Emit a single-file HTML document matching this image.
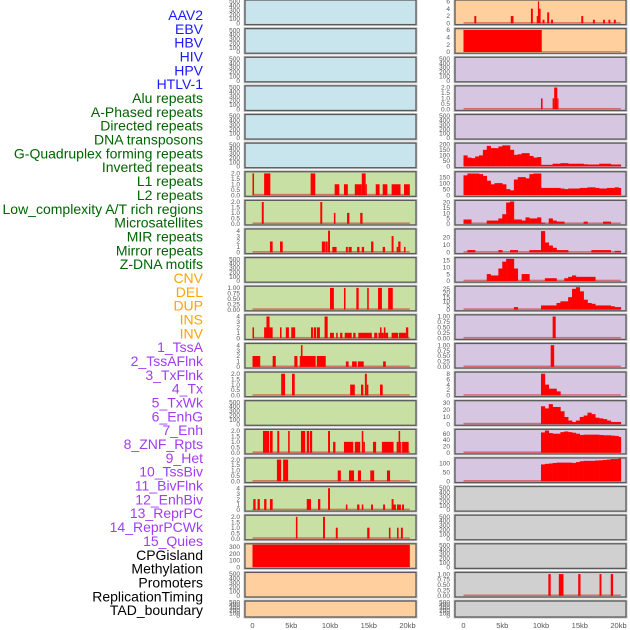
<!DOCTYPE html>
<html><head><meta charset="utf-8">
<style>
html,body{margin:0;padding:0;background:#fff;}
svg{display:block;font-family:"Liberation Sans",sans-serif;}
</style></head>
<body>
<svg id="chart" width="630" height="630" viewBox="0 0 630 630" xmlns="http://www.w3.org/2000/svg"></svg>
<script>
// ---------- data ----------
const trackLabels = ["AAV2","EBV","HBV","HIV","HPV","HTLV-1","Alu repeats","A-Phased repeats","Directed repeats","DNA transposons","G-Quadruplex forming repeats","Inverted repeats","L1 repeats","L2 repeats","Low_complexity A/T rich regions","Microsatellites","MIR repeats","Mirror repeats","Z-DNA motifs","CNV","DEL","DUP","INS","INV","1_TssA","2_TssAFlnk","3_TxFlnk","4_Tx","5_TxWk","6_EnhG","7_Enh","8_ZNF_Rpts","9_Het","10_TssBiv","11_BivFlnk","12_EnhBiv","13_ReprPC","14_ReprPCWk","15_Quies","CPGisland","Methylation","Promoters","ReplicationTiming","TAD_boundary"];
const labelGroups = ["v","v","v","v","v","v","r","r","r","r","r","r","r","r","r","r","r","r","r","s","s","s","s","s","c","c","c","c","c","c","c","c","c","c","c","c","c","c","c","o","o","o","o","o"];
const xTicks = [0,5,10,15,20];
const xTickLabels = ["0","5kb","10kb","15kb","20kb"];

// left column bars [startKb, endKb, height]
const leftL1 = [[0,0.2,2],[1.5,2.3,2],[7.5,8.1,2],[10.6,11.2,1],[11.8,12.3,1],[13.2,14.1,1],[14.1,14.6,2],[14.6,14.75,1],[15.9,16.4,1],[16.8,17.4,1],[17.95,19.1,1],[19.55,20.3,1]];
const leftL2 = [[1.2,1.45,2],[8.75,9.0,2],[10.5,10.7,1],[12.2,12.5,1],[13.9,14.2,1]];
const leftL3 = [[2.25,2.6,2],[3.55,3.9,2],[8.95,9.35,2],[9.4,9.7,2],[9.75,10.0,4],[10.3,10.85,1],[12.05,12.3,1],[12.4,12.8,1],[13.5,13.8,1],[14.1,14.4,1],[15.3,15.6,2],[16.8,17.1,1],[17.95,18.2,3],[18.6,18.8,1],[18.8,19.1,2],[19.55,19.75,1]];
const leftL5 = [[10.0,10.5,1],[11.8,12.0,1],[13.4,13.7,1],[14.8,15.0,1],[16.2,16.7,1],[17.5,18.1,1]];
const leftL6 = [[0,0.2,2],[1.5,1.8,2],[1.8,2.2,4],[2.2,2.6,2],[3.55,3.75,2],[4.3,4.7,2],[5.0,5.5,2],[7.55,7.8,2],[7.9,8.2,2],[8.3,8.7,2],[9.3,9.7,4],[10.0,10.5,1],[10.8,11.0,1],[11.3,11.6,1],[11.9,12.8,1],[13.0,13.3,1],[13.65,15.4,1],[15.7,16.1,1],[16.25,16.45,1],[16.45,16.65,2],[16.65,16.95,1],[16.95,17.15,2],[17.15,17.5,1],[17.95,18.8,1],[18.9,19.8,1],[19.8,20.1,2]];
const leftL7 = [[0,1.0,2],[2.6,3.0,2],[5.4,5.8,2],[6.1,6.25,2],[6.25,6.45,4],[6.45,8.15,2],[8.3,9.45,2],[12.05,12.4,1],[12.85,13.45,1],[13.6,14.35,1],[16.85,17.2,1]];
const leftL8 = [[3.7,4.2,2],[5.1,5.45,2],[12.6,13.2,1],[14.0,14.3,1],[14.5,14.75,2],[14.75,14.95,1],[16.45,16.8,1]];
const leftL10 = [[1.35,2.15,2],[2.25,2.6,2],[3.2,3.45,2],[4.6,4.8,2],[6.25,6.8,2],[7.0,7.3,2],[7.4,7.7,2],[9.75,10.0,2],[10.4,10.7,1],[11.8,13.0,1],[13.2,13.9,1],[14.1,14.3,2],[14.3,14.5,1],[15.55,15.95,1],[16.7,18.2,1],[18.6,18.85,1],[18.85,19.05,2],[19.05,19.1,1],[19.3,20.15,1]];
const leftL11 = [[3.15,3.7,2],[3.95,4.6,2],[11.0,11.4,1],[12.45,13.1,1],[13.6,14.0,1],[15.2,15.7,1],[17.35,17.75,1]];
const leftL12 = [[0.1,0.4,2],[0.65,0.95,2],[1.5,1.8,2],[2.25,2.6,2],[7.0,7.55,2],[8.45,8.75,2],[9.75,10.0,4],[12.05,12.25,1],[13.5,13.8,1],[14.1,14.3,1],[15.3,15.55,1],[16.85,17.1,1],[17.95,18.2,2],[18.2,18.5,1],[18.65,19.15,1],[19.3,19.55,1]];
const leftL13 = [[5.6,5.8,2],[9.1,9.35,2],[10.75,11.0,1],[14.8,15.1,1],[17.6,17.8,1],[18.65,18.85,1],[19.15,19.4,1]];
const leftCpG = [[0,20.3,330]];

// right column bars
const rightR0 = [[1.4,1.65,2],[6.1,6.45,2],[8.7,8.95,4],[9.45,9.6,2],[9.6,9.75,6],[9.75,9.95,4],[10.2,10.45,1],[10.8,11.05,3],[11.3,11.55,1],[15.2,15.45,2],[16.7,16.95,1],[18.0,18.25,1],[18.7,18.95,1],[19.4,19.65,1]];
const rightR1 = [[0,10.1,6],[10.1,20.3,0.12]];
const rightR3 = [[10.0,10.2,1],[11.5,11.7,1],[11.7,12.1,2],[12.1,12.25,1]];
const rightR11 = [[11.5,11.9,1]];
const rightR12 = [[11.25,11.7,1]];
const rightR20 = [[10.95,11.25,1],[12.3,12.9,1],[14.8,15.1,1],[17.55,17.8,1],[19.0,19.3,1]];

// right column binned profiles (0.5kb bins starting at 0)
const profAlu = [100,80,75,90,100,150,185,165,165,180,190,190,150,105,110,120,120,95,80,85,15,15,15,25,25,30,30,25,25,25,25,20,18,18,18,25,25,25,18,18,18];
const profL1 = [165,180,180,180,175,160,120,90,100,100,90,50,40,130,150,150,140,175,180,180,60,60,60,60,60,55,50,55,55,55,60,60,65,65,60,55,55,60,60,65,60];
const profLowAT = [4,4,0,0,0,0,3,3,3,5,9,20,21,4,4,3,6,5,5,6,1,0,5,3,2,2,0,0,0,0,0,2,0,0,0,0,2,2,0,0,0];
const profMIR = [0,3,3,0,0,0,0,0,0,3,0,0,3,3,0,0,0,3,3,3,28,13,9,6,3,3,3,0,0,0,0,0,0,3,3,3,3,3,0,2,2];
const profMirror = [0,0,0,0,0,0,5,4,4,9,14,16,16,9,0,5,5,0,0,0,0,2,2,2,0,0,2,3,4,3,3,3,3,3,0,0,0,0,0,0,0];
const profZDNA = [0,0,0,0,0,0,0,0,0,0,0,0,0,3,0,0,0,0,0,0,5,5,5,5,8,10,10,15,25,27,22,12,8,7,5,5,5,5,4,3,3];
const prof13 = [0,0,0,0,0,0,0,0,0,0,0,0,0,0,0,0,0,0,0,0,8,4,2.5,2.5,1.5,0,0,0,0,0,0,0,0,0,0,0,0,0,0,0,0];
const prof14 = [0,0,0,0,0,0,0,0,0,0,0,0,0,0,0,0,0,0,0,0,25,22,28,24,24,18,10,5,3,5,10,12,16,14,9,8,7,5,3,3,3];
const prof15 = [0,0,0,0,0,0,0,0,0,0,0,0,0,0,0,0,0,0,0,0,64,70,62,60,60,65,67,65,63,60,56,57,57,57,57,56,55,55,54,53,50];
const prof16 = [0,0,0,0,0,0,0,0,0,0,0,0,0,0,0,0,0,0,0,0,95,98,100,103,105,105,105,105,103,108,113,115,115,115,117,118,120,122,125,125,128];

// y-axis tick sets
const tEmpty = [0,100,200,300,400,500];
const t2 = [0,0.5,1,1.5,2];
const t4 = [0,1,2,3,4];
const t1 = [0,0.25,0.5,0.75,1];
const t6 = [0,2,4,6];

// ---------- layout ----------
const svg = document.getElementById('chart');
const NS = 'http://www.w3.org/2000/svg';
const BLUE='#c8e4ec', GREEN='#c8e0a4', ORANGE='#ffd09e', PURPLE='#d6c6e2', GRAY='#d0d0d0';
const cols = [{x0:245,x1:416,zero:252.5},{x0:455,x1:626,zero:463.5}];
const kbPx = 7.75;
const rowTop = i => i*28.62;
const rowH = i => i===21 ? 16 : 24.6;

function mk(tag, attrs, parent){const e=document.createElementNS(NS,tag);for(const k in attrs)e.setAttribute(k,attrs[k]);(parent||svg).appendChild(e);return e;}
function fmt(v,ticks){const dec=ticks.some(t=>Math.round(t)!==t);if(!dec)return String(v);return ticks===t1?v.toFixed(2):v.toFixed(1);}

// labels
const groupColor={v:'#1a1aff',r:'#006400',s:'#ffa500',c:'#a13cf5',o:'#000'};
trackLabels.forEach((t,i)=>{
  const e=mk('text',{x:203,y:(20+i*13.84).toFixed(1),'text-anchor':'end','font-size':'14',fill:groupColor[labelGroups[i]]});
  e.textContent=t;
  
  
});

function panel(col,row,bg,ticks,ymax,bars,prof,base){
  const c=cols[col], top=rowTop(row), h=rowH(row), bot=top+h;
  const g=mk('g',{});
  
  
  mk('rect',{x:c.x0-1,y:top-1,width:c.x1-c.x0+2,height:h+2,fill:'none',stroke:'#c8c8c8','stroke-width':1},g);
  mk('rect',{x:c.x0,y:top,width:c.x1-c.x0,height:h,fill:bg},g);
  const yb=bot-1.2, span=h-1.8;
  const ys=v=>yb-v/ymax*span;
  const xs=kb=>c.zero+kb*kbPx;
  if(base){const l=mk('rect',{x:xs(0),y:yb-1.3,width:xs(20.3)-xs(0),height:1.6,fill:'#d03030',opacity:0.6},g);}
  (bars||[]).forEach(b=>{
    const y=ys(Math.min(b[2],ymax));
    const r=mk('rect',{x:xs(b[0]).toFixed(2),y:y.toFixed(2),width:Math.max(1.2,xs(b[1])-xs(b[0])).toFixed(2),height:(yb-y).toFixed(2),fill:'#ff0000'},g);
    
    
  });
  if(prof){
    prof.forEach((v,k)=>{
      if(v<=0)return;
      const s=k*0.5,e=Math.min(20.3,s+0.5),y=ys(Math.min(v,ymax));
      const r=mk('rect',{x:xs(s).toFixed(2),y:y.toFixed(2),width:(xs(e)-xs(s)+0.3).toFixed(2),height:(yb-y).toFixed(2),fill:'#ff0000'},g);
      
      
    });
  }
  mk('rect',{x:c.x0,y:top,width:c.x1-c.x0,height:h,fill:'none',stroke:'#5a5a5a','stroke-width':1.3},g);
  ticks.forEach(t=>{
    const y=ys(t);
    const e=mk('text',{x:c.x0-5,y:(y+2.2).toFixed(1),'text-anchor':'end','font-size':'6.5',fill:'#555'},g);
    e.textContent=fmt(t,ticks);
  });
}

// left column
for(let r=0;r<6;r++) panel(0,r,BLUE,tEmpty,520,null,null,false);
panel(0,6,GREEN,t2,2.1,leftL1,null,true);
panel(0,7,GREEN,t2,2.1,leftL2,null,true);
panel(0,8,GREEN,t4,4.2,leftL3,null,true);
panel(0,9,GREEN,tEmpty,520,null,null,false);
panel(0,10,GREEN,t1,1.05,leftL5,null,true);
panel(0,11,GREEN,t4,4.2,leftL6,null,true);
panel(0,12,GREEN,t4,4.2,leftL7,null,true);
panel(0,13,GREEN,t2,2.1,leftL8,null,true);
panel(0,14,GREEN,tEmpty,520,null,null,false);
panel(0,15,GREEN,t2,2.1,leftL10,null,true);
panel(0,16,GREEN,t2,2.1,leftL11,null,true);
panel(0,17,GREEN,t4,4.2,leftL12,null,true);
panel(0,18,GREEN,t2,2.1,leftL13,null,true);
panel(0,19,ORANGE,[0,100,200,300],335,leftCpG,null,false);
panel(0,20,ORANGE,tEmpty,520,null,null,false);
panel(0,21,ORANGE,tEmpty,520,null,null,false);

// right column
panel(1,0,ORANGE,t6,6.2,rightR0,null,true);
panel(1,1,ORANGE,t6,6.2,rightR1,null,false);
panel(1,2,PURPLE,tEmpty,520,null,null,false);
panel(1,3,PURPLE,t2,2.1,rightR3,null,true);
panel(1,4,PURPLE,tEmpty,520,null,null,false);
panel(1,5,PURPLE,[0,50,100,150,200],205,null,profAlu,false);
panel(1,6,PURPLE,[0,50,100,150],190,null,profL1,false);
panel(1,7,PURPLE,[0,5,10,15,20],21.5,null,profLowAT,true);
panel(1,8,PURPLE,[0,10,20],30,null,profMIR,true);
panel(1,9,PURPLE,[0,5,10,15],16.5,null,profMirror,true);
panel(1,10,PURPLE,[0,5,10,15,20,25],27.5,null,profZDNA,true);
panel(1,11,PURPLE,t1,1.05,rightR11,null,true);
panel(1,12,PURPLE,t1,1.05,rightR12,null,true);
panel(1,13,PURPLE,[0,2,4,6,8],8.4,null,prof13,true);
panel(1,14,PURPLE,[0,10,20,30],32,null,prof14,true);
panel(1,15,PURPLE,[0,20,40,60],72,null,prof15,true);
panel(1,16,PURPLE,[0,50,100],128,null,prof16,true);
panel(1,17,GRAY,tEmpty,520,null,null,false);
panel(1,18,GRAY,tEmpty,520,null,null,false);
panel(1,19,GRAY,tEmpty,520,null,null,false);
panel(1,20,GRAY,t1,1.05,rightR20,null,true);
panel(1,21,GRAY,tEmpty,520,null,null,false);

// x axes
cols.forEach((c,ci)=>{
  xTicks.forEach((t,k)=>{
    const e=mk('text',{x:(c.zero+t*kbPx).toFixed(1),y:628,'text-anchor':'middle','font-size':'7.5',fill:'#555'});
    e.textContent=xTickLabels[k];
    
    
  });
});
</script>
</body></html>
